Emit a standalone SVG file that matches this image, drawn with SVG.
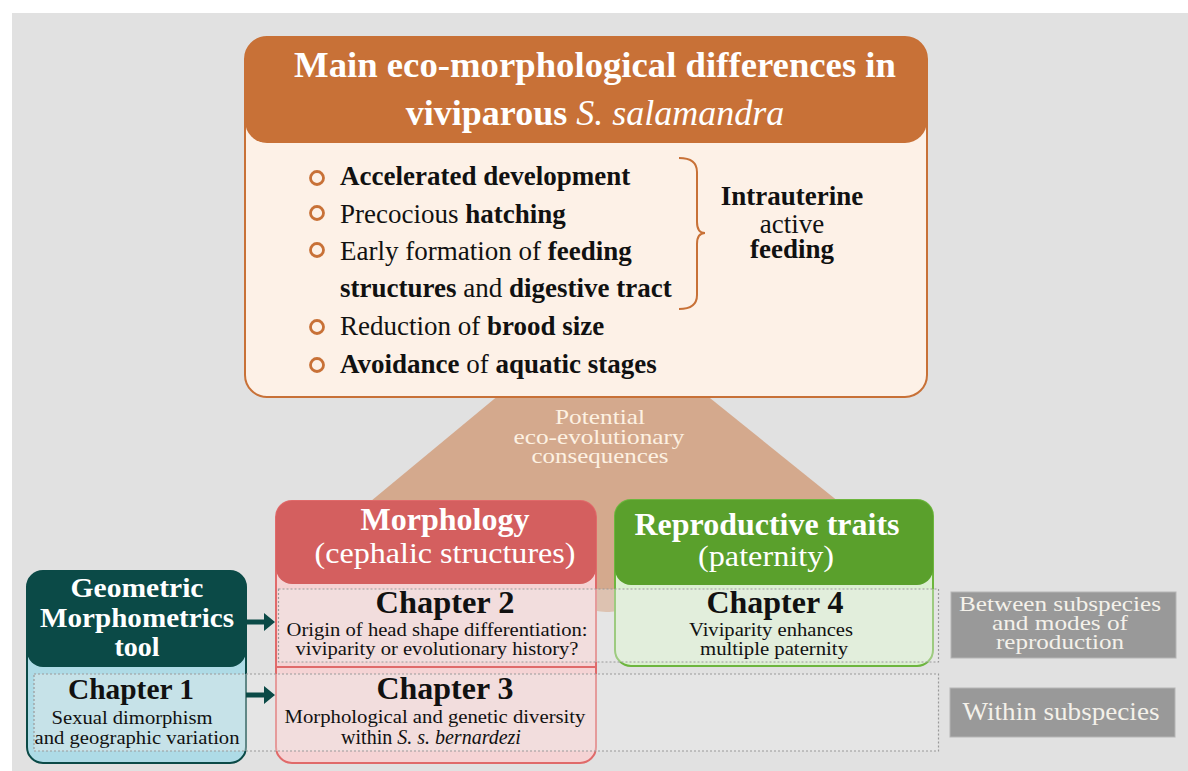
<svg xmlns="http://www.w3.org/2000/svg" width="1188" height="771" viewBox="0 0 1188 771">
<defs>
<style>
text{font-family:"Liberation Serif","Times New Roman",serif}
.b{font-weight:bold}
.i{font-style:italic}
.w{fill:#ffffff}
.k{fill:#111111}
.row{fill:rgba(236,236,236,0.38);stroke:#9a9a9a;stroke-width:1.2;stroke-dasharray:2 2}
.lbl{fill:#999999;stroke:#b5b5b5;stroke-width:1}
.lt{fill:#f4f1ea;font-size:22px}
.bul{fill:none;stroke:#c87137;stroke-width:2.8}
.arr{fill:#0b4a47}
</style>
</defs>
<rect x="0" y="0" width="1188" height="771" fill="#ffffff"/>
<rect x="12" y="13" width="1176" height="758" fill="#e1e1e1"/>

<g id="consequences">
<path d="M505 390 L700 390 L880 535 Q640 612 606 612 Q572 612 330 535 Z" fill="#d4a98d"/>
<g font-size="21" fill="#fdf1e2" text-anchor="middle">
<text x="600" y="424" textLength="90" lengthAdjust="spacingAndGlyphs">Potential</text>
<text x="599" y="444" textLength="171" lengthAdjust="spacingAndGlyphs">eco-evolutionary</text>
<text x="600" y="463" textLength="137" lengthAdjust="spacingAndGlyphs">consequences</text>
</g>
</g>

<g id="main">
<rect x="245" y="37" width="682" height="360" rx="22" fill="#fdf1e7" stroke="#c87137" stroke-width="2"/>
<rect x="245" y="37" width="682" height="106" rx="22" fill="#c87137"/>
<text x="294" y="77" font-size="36" class="b w" textLength="602" lengthAdjust="spacingAndGlyphs">Main eco-morphological differences in</text>
<text x="595" y="125" font-size="36" class="w" text-anchor="middle"><tspan class="b">viviparous </tspan><tspan class="i">S. salamandra</tspan></text>
<circle cx="317" cy="178" r="6.5" class="bul"/>
<circle cx="317" cy="213" r="6.5" class="bul"/>
<circle cx="317" cy="250" r="6.5" class="bul"/>
<circle cx="317" cy="327" r="6.5" class="bul"/>
<circle cx="317" cy="365" r="6.5" class="bul"/>
<g font-size="27" class="k">
<text x="340" y="185" class="b">Accelerated development</text>
<text x="340" y="223">Precocious <tspan class="b">hatching</tspan></text>
<text x="340" y="260">Early formation of <tspan class="b">feeding</tspan></text>
<text x="340" y="297"><tspan class="b">structures</tspan> and <tspan class="b">digestive tract</tspan></text>
<text x="340" y="335">Reduction of <tspan class="b">brood size</tspan></text>
<text x="340" y="373"><tspan class="b">Avoidance</tspan> of <tspan class="b">aquatic stages</tspan></text>
</g>
<path d="M679 158 Q697 158 697 172 L697 222 Q697 233 705 233 Q697 233 697 244 L697 295 Q697 309 679 309" fill="none" stroke="#c87137" stroke-width="2"/>
<g font-size="27" class="k" text-anchor="middle">
<text x="792" y="205" class="b">Intrauterine</text>
<text x="792" y="233">active</text>
<text x="792" y="258" class="b">feeding</text>
</g>
</g>

<g id="geometric">
<rect x="27" y="571" width="219" height="192" rx="16" fill="#aedbe6" stroke="#0b4a47" stroke-width="2"/>
<rect x="27" y="571" width="219" height="96" rx="16" fill="#0b4a47"/>
<g font-size="28" class="b w" text-anchor="middle">
<text x="137" y="597" textLength="133" lengthAdjust="spacingAndGlyphs">Geometric</text>
<text x="137" y="627" textLength="194" lengthAdjust="spacingAndGlyphs">Morphometrics</text>
<text x="137" y="656">tool</text>
</g>
</g>

<g id="morphology">
<rect x="276" y="501" width="320" height="262" rx="16" fill="#f5d3d4" stroke="#e06a6a" stroke-width="2"/>
<rect x="276" y="501" width="320" height="83" rx="16" fill="#d45f5f"/>
<line x1="277" y1="667" x2="595" y2="667" stroke="#e06a6a" stroke-width="2"/>
<text x="445" y="530" font-size="31" class="b w" text-anchor="middle" textLength="169" lengthAdjust="spacingAndGlyphs">Morphology</text>
<text x="445" y="563" font-size="30" class="w" text-anchor="middle" textLength="261" lengthAdjust="spacingAndGlyphs">(cephalic structures)</text>
</g>

<g id="reproductive">
<rect x="615" y="500" width="318" height="166" rx="16" fill="#dcefd2" stroke="#6db63e" stroke-width="2"/>
<rect x="615" y="500" width="318" height="85" rx="16" fill="#5aa02c"/>
<text x="767" y="535" font-size="31" class="b w" text-anchor="middle" textLength="265" lengthAdjust="spacingAndGlyphs">Reproductive traits</text>
<text x="766" y="566" font-size="30" class="w" text-anchor="middle" textLength="136" lengthAdjust="spacingAndGlyphs">(paternity)</text>
</g>

<g id="rows">
<rect x="278.5" y="589" width="660" height="73" class="row"/>
<rect x="34" y="674" width="904.5" height="77" class="row"/>
</g>

<g id="connectors">
<path d="M246 619.5 H264 V613 L275 622 L264 631 V624.5 H246 Z" class="arr"/>
<path d="M246 692.5 H264 V686 L275 695 L264 704 V697.5 H246 Z" class="arr"/>
</g>

<g id="chapter1" class="k" text-anchor="middle">
<text x="131" y="699" font-size="29" class="b" textLength="126" lengthAdjust="spacingAndGlyphs">Chapter 1</text>
<text x="132" y="724" font-size="19" textLength="161" lengthAdjust="spacingAndGlyphs">Sexual dimorphism</text>
<text x="137" y="744" font-size="19" textLength="205" lengthAdjust="spacingAndGlyphs">and geographic variation</text>
</g>

<g id="chapter2" class="k" text-anchor="middle">
<text x="445" y="613" font-size="31" class="b" textLength="139" lengthAdjust="spacingAndGlyphs">Chapter 2</text>
<text x="437" y="636" font-size="19" textLength="301" lengthAdjust="spacingAndGlyphs">Origin of head shape differentiation:</text>
<text x="437" y="655" font-size="19" textLength="283" lengthAdjust="spacingAndGlyphs">viviparity or evolutionary history?</text>
</g>

<g id="chapter3" class="k" text-anchor="middle">
<text x="445" y="699" font-size="31" class="b" textLength="137" lengthAdjust="spacingAndGlyphs">Chapter 3</text>
<text x="435" y="723" font-size="19" textLength="301" lengthAdjust="spacingAndGlyphs">Morphological and genetic diversity</text>
<text x="431" y="744" font-size="20">within <tspan class="i">S. s. bernardezi</tspan></text>
</g>

<g id="chapter4" class="k" text-anchor="middle">
<text x="775" y="613" font-size="31" class="b" textLength="137" lengthAdjust="spacingAndGlyphs">Chapter 4</text>
<text x="771" y="636" font-size="19" textLength="164" lengthAdjust="spacingAndGlyphs">Viviparity enhances</text>
<text x="774" y="655" font-size="19" textLength="148" lengthAdjust="spacingAndGlyphs">multiple paternity</text>
</g>

<g id="between">
<rect x="951" y="592" width="225" height="66" class="lbl"/>
<text x="1060" y="611" class="lt" text-anchor="middle" textLength="202" lengthAdjust="spacingAndGlyphs">Between subspecies</text>
<text x="1060" y="630" class="lt" text-anchor="middle" textLength="136" lengthAdjust="spacingAndGlyphs">and modes of</text>
<text x="1060" y="649" class="lt" text-anchor="middle" textLength="128" lengthAdjust="spacingAndGlyphs">reproduction</text>
</g>

<g id="within">
<rect x="950" y="688" width="225" height="49" class="lbl"/>
<text x="1061" y="720" class="lt" style="font-size:26px" text-anchor="middle" textLength="197" lengthAdjust="spacingAndGlyphs">Within subspecies</text>
</g>
</svg>
